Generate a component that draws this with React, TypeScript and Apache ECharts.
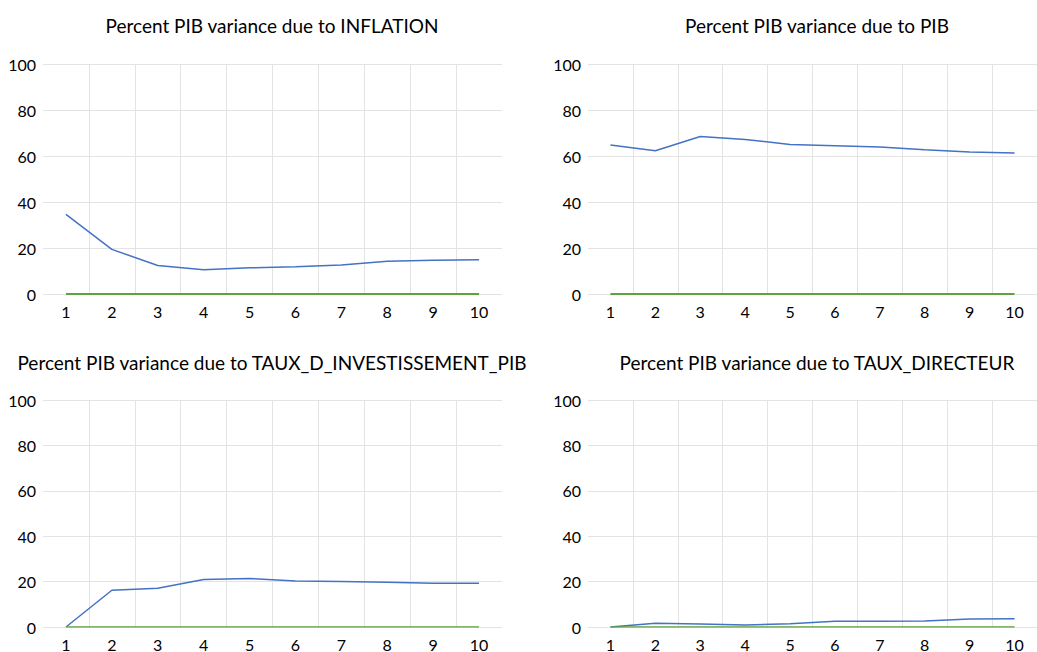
import React, { useEffect, useRef } from "react";
import * as echarts from "echarts";

const periods = ["1", "2", "3", "4", "5", "6", "7", "8", "9", "10"];
const yTicks = [0, 20, 40, 60, 80, 100];

const titles = [
  "Percent PIB variance due to INFLATION",
  "Percent PIB variance due to PIB",
  "Percent PIB variance due to TAUX_D_INVESTISSEMENT_PIB",
  "Percent PIB variance due to TAUX_DIRECTEUR",
];

const inflation = [34.6, 19.4, 12.4, 10.5, 11.4, 11.8, 12.6, 14.2, 14.7, 14.9];
const pib = [64.8, 62.3, 68.5, 67.2, 65.0, 64.5, 63.9, 62.7, 61.7, 61.3];
const investissement = [0, 16.2, 17.1, 20.9, 21.4, 20.3, 20.0, 19.7, 19.3, 19.3];
const directeur = [0, 1.6, 1.3, 0.9, 1.4, 2.5, 2.5, 2.6, 3.5, 3.6];
const zeroLine = [0, 0, 0, 0, 0, 0, 0, 0, 0, 0];

const panels = [inflation, pib, investissement, directeur];

const FONT = "Lato";

export default function App() {
  const ref = useRef<HTMLDivElement>(null);
  useEffect(() => {
    if (!ref.current) return;
    const chart = echarts.init(ref.current, undefined, { renderer: "svg" });
    const gridPos = [
      { left: 43, top: 64, width: 459, height: 230 },
      { left: 588, top: 64, width: 458, height: 230 },
      { left: 43, top: 400, width: 459, height: 230 },
      { left: 588, top: 400, width: 458, height: 230 },
    ];
    const titlePos = [
      { x: 272, y: 25 },
      { x: 817, y: 25 },
      { x: 272, y: 362 },
      { x: 817, y: 362 },
    ];
    const grids = gridPos.map((g) => ({ ...g, containLabel: false }));
    const xAxes = gridPos.map((_, i) => ({
      type: "category",
      gridIndex: i,
      data: periods,
      boundaryGap: true,
      axisLine: { show: false },
      axisTick: { show: false },
      axisLabel: { color: "#000", fontFamily: FONT, fontSize: 16, margin: 9 },
      splitLine: {
        show: true,
        showMinLine: false,
        showMaxLine: false,
        lineStyle: { color: "#E3E3E3", width: 1 },
      },
    }));
    const yAxes = gridPos.map((_, i) => ({
      type: "value",
      gridIndex: i,
      min: yTicks[0],
      max: yTicks[yTicks.length - 1],
      interval: yTicks[1] - yTicks[0],
      axisLine: { show: false },
      axisTick: { show: false },
      axisLabel: { color: "#000", fontFamily: FONT, fontSize: 16, margin: 7 },
      splitLine: { show: true, lineStyle: { color: "#E3E3E3", width: 1 } },
    }));
    const series: any[] = [];
    panels.forEach((vals, i) => {
      series.push({
        type: "line",
        xAxisIndex: i,
        yAxisIndex: i,
        data: vals,
        showSymbol: false,
        symbol: "none",
        lineStyle: { color: "#4472C4", width: 1.5 },
      });
      series.push({
        type: "line",
        xAxisIndex: i,
        yAxisIndex: i,
        data: zeroLine,
        showSymbol: false,
        symbol: "none",
        lineStyle: { color: "#5FA33E", width: i < 2 ? 2 : 1.5 },
      });
    });
    chart.setOption({
      animation: false,
      backgroundColor: "#fff",
      grid: grids,
      xAxis: xAxes,
      yAxis: yAxes,
      series,
      graphic: titles.map((t, i) => ({
        type: "text",
        x: titlePos[i].x,
        y: titlePos[i].y,
        style: {
          text: t,
          fill: "#000",
          font: `normal 400 19px ${FONT}`,
          textAlign: "center",
          textVerticalAlign: "middle",
        },
      })),
    });
    return () => chart.dispose();
  }, []);
  return (
    <div
      ref={ref}
      style={{ position: "fixed", left: 0, top: 0, width: 1037, height: 652, overflow: "hidden" }}
    />
  );
}
